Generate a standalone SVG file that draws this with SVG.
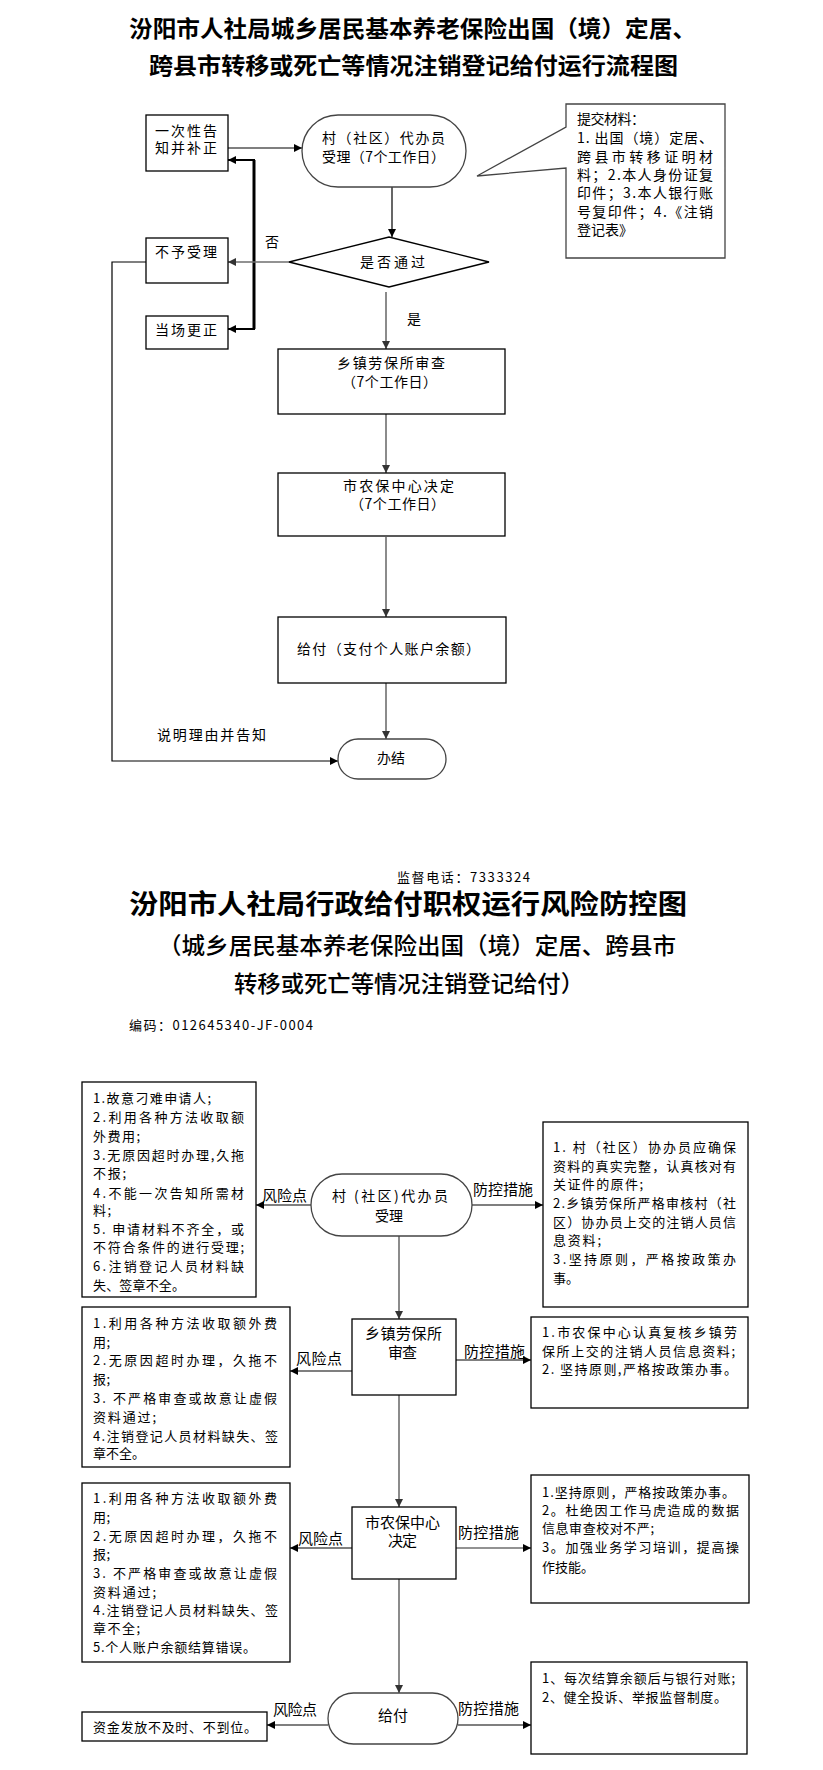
<svg xmlns="http://www.w3.org/2000/svg" width="823" height="1770" viewBox="0 0 823 1770">
<defs>
<style>
.t{font-family:"Noto Sans CJK SC","Noto Sans",sans-serif;fill:#000}
.f13{font-size:13px}
.f14{font-size:14px}
.f15{font-size:15px}
.ttl{font-size:23px;font-weight:bold}
.big{font-size:27px;font-weight:bold}
.sub{font-size:23px;font-weight:500}
.box{fill:#fff;stroke:#000;stroke-width:1.3}
.gbox{fill:#fff;stroke:#444;stroke-width:1.3}
.k{fill:none;stroke:#000;stroke-width:1.2}
.g{fill:none;stroke:#6e6e6e;stroke-width:1.6}
</style>
<marker id="ak" viewBox="0 0 10 10" refX="10" refY="5" markerWidth="9" markerHeight="8" markerUnits="userSpaceOnUse" orient="auto"><path d="M0,0 L10,5 L0,10 z" fill="#000"/></marker>
<marker id="ag" viewBox="0 0 10 10" refX="10" refY="5" markerWidth="9" markerHeight="8" markerUnits="userSpaceOnUse" orient="auto"><path d="M0,0 L10,5 L0,10 z" fill="#333"/></marker>
</defs>
<rect width="823" height="1770" fill="#fff"/>

<g id="title1">
<text class="t ttl" x="129" y="37" textLength="567" lengthAdjust="spacingAndGlyphs">汾阳市人社局城乡居民基本养老保险出国（境）定居、</text>
<text class="t ttl" x="149" y="74" textLength="529" lengthAdjust="spacingAndGlyphs">跨县市转移或死亡等情况注销登记给付运行流程图</text>
</g>

<g id="connectors1">
<line class="k" x1="228" y1="148" x2="302" y2="148" marker-end="url(#ak)"/>
<line x1="254" y1="160" x2="254" y2="329" stroke="#000" stroke-width="3"/>
<line x1="255" y1="160" x2="228" y2="160" stroke="#000" stroke-width="2" marker-end="url(#ak)"/>
<line x1="255" y1="329" x2="228" y2="329" stroke="#000" stroke-width="2" marker-end="url(#ak)"/>
<line class="k" x1="392" y1="187" x2="392" y2="237" marker-end="url(#ak)"/>
<line class="g" x1="289" y1="262" x2="228" y2="262" marker-end="url(#ag)"/>
<line class="g" x1="386" y1="292" x2="386" y2="349" marker-end="url(#ag)"/>
<path class="k" d="M146,262 H112 V761 H338" marker-end="url(#ak)"/>
<line class="g" x1="386" y1="414" x2="386" y2="473" marker-end="url(#ag)"/>
<line class="g" x1="386" y1="537" x2="386" y2="617" marker-end="url(#ag)"/>
<line class="g" x1="386" y1="683" x2="386" y2="739" marker-end="url(#ag)"/>
<text class="t f14" x="265" y="247">否</text>
<text class="t f14" x="407" y="324">是</text>
<text class="t f14" x="157" y="740" textLength="109">说明理由并告知</text>
</g>

<g id="n-buzheng">
<rect class="box" x="146" y="115" width="82" height="56"/>
<text class="t f14" x="155" y="136" textLength="62">一次性告</text>
<text class="t f14" x="155" y="153" textLength="62">知并补正</text>
</g>
<g id="n-shouli">
<rect class="gbox" x="302" y="115" width="164" height="72" rx="36"/>
<text class="t f14" x="322" y="143" textLength="123">村（社区）代办员</text>
<text class="t f14" x="322" y="162" textLength="123">受理（7个工作日）</text>
</g>
<g id="n-cailiao">
<polygon class="gbox" points="566,104 725,104 725,258 566,258 566,168 477,176 566,127"/>
<text class="t f14" x="577" y="124" textLength="68">提交材料：</text>
<text class="t f14" x="577" y="143" textLength="136">1. 出国（境）定居、</text>
<text class="t f14" x="577" y="162" textLength="136">跨县市转移证明材</text>
<text class="t f14" x="577" y="180" textLength="136">料；2.本人身份证复</text>
<text class="t f14" x="577" y="198" textLength="136">印件；3.本人银行账</text>
<text class="t f14" x="577" y="217" textLength="136">号复印件；4.《注销</text>
<text class="t f14" x="577" y="235" textLength="56">登记表》</text>
</g>
<g id="n-buyu">
<rect class="box" x="146" y="238" width="82" height="45"/>
<text class="t f14" x="155" y="257" textLength="62">不予受理</text>
</g>
<g id="n-dangchang">
<rect class="box" x="146" y="316" width="82" height="33"/>
<text class="t f14" x="155" y="335" textLength="62">当场更正</text>
</g>
<g id="n-tongguo">
<polygon class="box" points="289,262 389,237 489,262 389,287"/>
<text class="t f14" x="360" y="267" textLength="65">是否通过</text>
</g>
<g id="n-shencha1">
<rect class="box" x="278" y="349" width="227" height="65"/>
<text class="t f14" x="337" y="368" textLength="108">乡镇劳保所审查</text>
<text class="t f14" x="342" y="387" textLength="95">（7个工作日）</text>
</g>
<g id="n-jueding1">
<rect class="box" x="278" y="473" width="227" height="63"/>
<text class="t f14" x="343" y="491" textLength="111">市农保中心决定</text>
<text class="t f14" x="350" y="509" textLength="95">（7个工作日）</text>
</g>
<g id="n-geifu1">
<rect class="box" x="278" y="617" width="228" height="66"/>
<text class="t f14" x="297" y="654" textLength="183">给付（支付个人账户余额）</text>
</g>
<g id="n-banjie">
<rect class="gbox" x="338" y="739" width="108" height="40" rx="20"/>
<text class="t f14" x="377" y="763" textLength="28">办结</text>
</g>

<g id="title2">
<text class="t f13" x="397" y="882" textLength="133">监督电话：7333324</text>
<text class="t big" x="129" y="914" textLength="558" lengthAdjust="spacingAndGlyphs">汾阳市人社局行政给付职权运行风险防控图</text>
<text class="t sub" x="158" y="954" textLength="518" lengthAdjust="spacingAndGlyphs">（城乡居民基本养老保险出国（境）定居、跨县市</text>
<text class="t sub" x="234" y="992" textLength="350" lengthAdjust="spacingAndGlyphs">转移或死亡等情况注销登记给付）</text>
<text class="t f13" x="129" y="1030" textLength="184">编码：012645340-JF-0004</text>
</g>

<g id="connectors2">
<line class="k" x1="311" y1="1205" x2="256" y2="1205" marker-end="url(#ak)"/>
<line class="k" x1="472" y1="1205" x2="543" y2="1205" marker-end="url(#ak)"/>
<line class="g" x1="399" y1="1236" x2="399" y2="1319" marker-end="url(#ag)"/>
<line class="k" x1="352" y1="1371" x2="290" y2="1371" marker-end="url(#ak)"/>
<line class="k" x1="456" y1="1360" x2="531" y2="1360" marker-end="url(#ak)"/>
<line class="g" x1="399" y1="1395" x2="399" y2="1507" marker-end="url(#ag)"/>
<line class="k" x1="352" y1="1548" x2="290" y2="1548" marker-end="url(#ak)"/>
<line class="g" x1="456" y1="1548" x2="531" y2="1548" marker-end="url(#ak)"/>
<line class="g" x1="399" y1="1579" x2="399" y2="1693" marker-end="url(#ag)"/>
<line class="k" x1="328" y1="1725" x2="267" y2="1725" marker-end="url(#ak)"/>
<line class="k" x1="458" y1="1725" x2="531" y2="1725" marker-end="url(#ak)"/>
<text class="t f15" x="262" y="1201" textLength="45">风险点</text>
<text class="t f15" x="473" y="1195" textLength="60">防控措施</text>
<text class="t f15" x="296" y="1364" textLength="46">风险点</text>
<text class="t f15" x="464" y="1357" textLength="61">防控措施</text>
<text class="t f15" x="298" y="1544" textLength="45">风险点</text>
<text class="t f15" x="458" y="1538" textLength="61">防控措施</text>
<text class="t f15" x="273" y="1715" textLength="44">风险点</text>
<text class="t f15" x="458" y="1714" textLength="61">防控措施</text>
</g>

<g id="n-shouli2">
<rect class="gbox" x="311" y="1174" width="161" height="62" rx="31"/>
<text class="t f14" x="332" y="1201" textLength="116">村 (社区)代办员</text>
<text class="t f14" x="375" y="1221" textLength="28">受理</text>
</g>
<g id="n-shencha2">
<rect class="box" x="352" y="1319" width="104" height="76"/>
<text class="t f15" x="365" y="1339" textLength="77">乡镇劳保所</text>
<text class="t f15" x="388" y="1358" textLength="29">审查</text>
</g>
<g id="n-jueding2">
<rect class="box" x="352" y="1507" width="104" height="72"/>
<text class="t f15" x="365" y="1528" textLength="75">市农保中心</text>
<text class="t f15" x="388" y="1546" textLength="29">决定</text>
</g>
<g id="n-geifu2">
<rect class="gbox" x="328" y="1693" width="130" height="51" rx="25.5"/>
<text class="t f15" x="378" y="1721" textLength="30">给付</text>
</g>

<g id="n-risk1">
<rect class="box" x="82" y="1082" width="174" height="215"/>
<text class="t f13" x="93" y="1103" textLength="118">1.故意刁难申请人;</text>
<text class="t f13" x="93" y="1122" textLength="151">2.利用各种方法收取额</text>
<text class="t f13" x="93" y="1141" textLength="47">外费用;</text>
<text class="t f13" x="93" y="1160" textLength="151">3.无原因超时办理,久拖</text>
<text class="t f13" x="93" y="1178" textLength="33">不报;</text>
<text class="t f13" x="93" y="1198" textLength="151">4.不能一次告知所需材</text>
<text class="t f13" x="93" y="1215" textLength="18">料;</text>
<text class="t f13" x="93" y="1234" textLength="151">5. 申请材料不齐全，或</text>
<text class="t f13" x="93" y="1252" textLength="151">不符合条件的进行受理;</text>
<text class="t f13" x="93" y="1271" textLength="151">6.注销登记人员材料缺</text>
<text class="t f13" x="93" y="1290" textLength="92">失、签章不全。</text>
</g>
<g id="n-measure1">
<rect class="box" x="543" y="1122" width="205" height="185"/>
<text class="t f13" x="553" y="1152" textLength="183">1. 村（社区）协办员应确保</text>
<text class="t f13" x="553" y="1171" textLength="183">资料的真实完整，认真核对有</text>
<text class="t f13" x="553" y="1189" textLength="90">关证件的原件;</text>
<text class="t f13" x="553" y="1208" textLength="183">2.乡镇劳保所严格审核村（社</text>
<text class="t f13" x="553" y="1227" textLength="183">区）协办员上交的注销人员信</text>
<text class="t f13" x="553" y="1245" textLength="48">息资料;</text>
<text class="t f13" x="553" y="1264" textLength="183">3.坚持原则，严格按政策办</text>
<text class="t f13" x="553" y="1283" textLength="26">事。</text>
</g>
<g id="n-risk2">
<rect class="box" x="82" y="1307" width="208" height="160"/>
<text class="t f13" x="93" y="1328" textLength="184">1.利用各种方法收取额外费</text>
<text class="t f13" x="93" y="1347" textLength="17">用;</text>
<text class="t f13" x="93" y="1365" textLength="184">2.无原因超时办理，久拖不</text>
<text class="t f13" x="93" y="1384" textLength="17">报;</text>
<text class="t f13" x="93" y="1403" textLength="184">3. 不严格审查或故意让虚假</text>
<text class="t f13" x="93" y="1422" textLength="63">资料通过;</text>
<text class="t f13" x="93" y="1441" textLength="185">4.注销登记人员材料缺失、签</text>
<text class="t f13" x="93" y="1458" textLength="52">章不全。</text>
</g>
<g id="n-measure2">
<rect class="box" x="531" y="1317" width="217" height="91"/>
<text class="t f13" x="542" y="1337" textLength="195">1.市农保中心认真复核乡镇劳</text>
<text class="t f13" x="542" y="1356" textLength="193">保所上交的注销人员信息资料;</text>
<text class="t f13" x="542" y="1374" textLength="195">2.  坚持原则,严格按政策办事。</text>
</g>
<g id="n-risk3">
<rect class="box" x="82" y="1483" width="208" height="179"/>
<text class="t f13" x="93" y="1503" textLength="184">1.利用各种方法收取额外费</text>
<text class="t f13" x="93" y="1522" textLength="17">用;</text>
<text class="t f13" x="93" y="1541" textLength="184">2.无原因超时办理，久拖不</text>
<text class="t f13" x="93" y="1559" textLength="17">报;</text>
<text class="t f13" x="93" y="1578" textLength="184">3. 不严格审查或故意让虚假</text>
<text class="t f13" x="93" y="1597" textLength="63">资料通过;</text>
<text class="t f13" x="93" y="1615" textLength="185">4.注销登记人员材料缺失、签</text>
<text class="t f13" x="93" y="1633" textLength="47">章不全;</text>
<text class="t f13" x="93" y="1652" textLength="163">5.个人账户余额结算错误。</text>
</g>
<g id="n-measure3">
<rect class="box" x="531" y="1475" width="218" height="128"/>
<text class="t f13" x="542" y="1497" textLength="193">1.坚持原则，严格按政策办事。</text>
<text class="t f13" x="542" y="1515" textLength="197">2。杜绝因工作马虎造成的数据</text>
<text class="t f13" x="542" y="1533" textLength="112">信息审查校对不严;</text>
<text class="t f13" x="542" y="1552" textLength="197">3。加强业务学习培训，提高操</text>
<text class="t f13" x="542" y="1572" textLength="52">作技能。</text>
</g>
<g id="n-risk4">
<rect class="box" x="82" y="1712" width="185" height="29"/>
<text class="t f13" x="93" y="1732" textLength="164">资金发放不及时、不到位。</text>
</g>
<g id="n-measure4">
<rect class="box" x="531" y="1662" width="216" height="92"/>
<text class="t f13" x="542" y="1683" textLength="193">1、每次结算余额后与银行对账;</text>
<text class="t f13" x="542" y="1702" textLength="185">2、健全投诉、举报监督制度。</text>
</g>
</svg>
